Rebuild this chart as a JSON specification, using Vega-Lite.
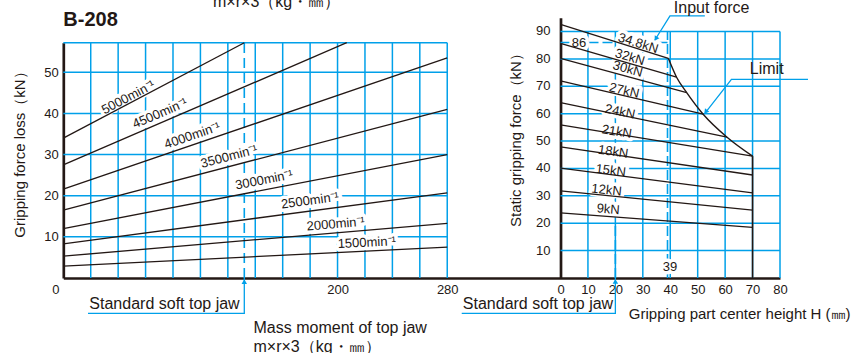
{
  "$schema": "https://vega.github.io/schema/vega-lite/v6.json",
  "width": 860,
  "height": 278,
  "autosize": {"type": "none"},
  "padding": {"left": 0, "top": 0, "right": 0, "bottom": 75},
  "background": "white",
  "config": {
    "view": {"stroke": null},
    "font": "Liberation Sans",
    "axis": {"labelFont": "Liberation Sans", "titleFont": "Liberation Sans", "labelColor": "#231815", "titleColor": "#231815", "titleFontWeight": "normal", "labelFlush": false, "labelOverlap": false, "labelBound": false}
  },
  "datasets": {
    "leftVGrid": [
      {"x": 20, "ya": 0, "yb": 57.2}, {"x": 40, "ya": 0, "yb": 57.2}, {"x": 60, "ya": 0, "yb": 57.2}, {"x": 80, "ya": 0, "yb": 57.2},
      {"x": 100, "ya": 0, "yb": 57.2}, {"x": 120, "ya": 0, "yb": 57.2}, {"x": 140, "ya": 0, "yb": 57.2}, {"x": 160, "ya": 0, "yb": 57.2},
      {"x": 180, "ya": 0, "yb": 57.2}, {"x": 200, "ya": 0, "yb": 57.2}, {"x": 220, "ya": 0, "yb": 57.2}, {"x": 240, "ya": 0, "yb": 57.2},
      {"x": 260, "ya": 0, "yb": 57.2}, {"x": 280, "ya": 0, "yb": 57.2}
    ],
    "leftHGrid": [
      {"y": 10, "xa": 0, "xb": 280}, {"y": 20, "xa": 0, "xb": 280}, {"y": 30, "xa": 0, "xb": 280},
      {"y": 40, "xa": 0, "xb": 280}, {"y": 50, "xa": 0, "xb": 280}, {"y": 57.2, "xa": 0, "xb": 280}
    ],
    "rightVGrid": [
      {"x": 10, "ya": 0, "yb": 90}, {"x": 20, "ya": 0, "yb": 90}, {"x": 30, "ya": 0, "yb": 90}, {"x": 40, "ya": 0, "yb": 90},
      {"x": 50, "ya": 0, "yb": 90}, {"x": 60, "ya": 0, "yb": 90}, {"x": 70, "ya": 0, "yb": 90}, {"x": 80, "ya": 0, "yb": 90}
    ],
    "rightHGrid": [
      {"y": 10, "xa": 0, "xb": 80}, {"y": 20, "xa": 0, "xb": 80}, {"y": 30, "xa": 0, "xb": 80},
      {"y": 40, "xa": 0, "xb": 80}, {"y": 50, "xa": 0, "xb": 80}, {"y": 60, "xa": 0, "xb": 80},
      {"y": 70, "xa": 0, "xb": 80}, {"y": 80, "xa": 0, "xb": 80}, {"y": 90, "xa": 0, "xb": 80}
    ],
    "rightTicks": [{"v": 10}, {"v": 20}, {"v": 30}, {"v": 40}, {"v": 50}, {"v": 60}, {"v": 70}, {"v": 80}, {"v": 90}],
    "leftLines": [
      {"speed": "5000", "x": 0, "y": 34.0}, {"speed": "5000", "x": 132, "y": 57.2},
      {"speed": "4500", "x": 0, "y": 27.5}, {"speed": "4500", "x": 206.7, "y": 57.2},
      {"speed": "4000", "x": 0, "y": 21.6}, {"speed": "4000", "x": 280, "y": 53.5},
      {"speed": "3500", "x": 0, "y": 16.5}, {"speed": "3500", "x": 280, "y": 41.0},
      {"speed": "3000", "x": 0, "y": 12.0}, {"speed": "3000", "x": 280, "y": 30.0},
      {"speed": "2500", "x": 0, "y": 8.3}, {"speed": "2500", "x": 280, "y": 20.7},
      {"speed": "2000", "x": 0, "y": 5.3}, {"speed": "2000", "x": 280, "y": 13.3},
      {"speed": "1500", "x": 0, "y": 2.9}, {"speed": "1500", "x": 280, "y": 7.5}
    ],
    "rightLines": [
      {"force": "34.8", "x": 0, "y": 92.6}, {"force": "34.8", "x": 39.3, "y": 80.2},
      {"force": "32", "x": 0, "y": 85.7}, {"force": "32", "x": 42.3, "y": 73.3},
      {"force": "30", "x": 0, "y": 80.2}, {"force": "30", "x": 46.0, "y": 67.7},
      {"force": "27", "x": 0, "y": 72.0}, {"force": "27", "x": 52.0, "y": 59.8},
      {"force": "24", "x": 0, "y": 64.0}, {"force": "24", "x": 60.7, "y": 51.4},
      {"force": "21", "x": 0, "y": 55.9}, {"force": "21", "x": 70, "y": 44.5},
      {"force": "18", "x": 0, "y": 47.9}, {"force": "18", "x": 70, "y": 37.6},
      {"force": "15", "x": 0, "y": 40.1}, {"force": "15", "x": 70, "y": 31.1},
      {"force": "12", "x": 0, "y": 31.8}, {"force": "12", "x": 70, "y": 24.8},
      {"force": "9", "x": 0, "y": 23.8}, {"force": "9", "x": 70, "y": 18.5}
    ],
    "limitCurve": [
      {"x": 39.3, "y": 80.2}, {"x": 42.3, "y": 73.3}, {"x": 46.0, "y": 67.7},
      {"x": 52.0, "y": 59.8}, {"x": 60.7, "y": 51.4}, {"x": 70, "y": 44.5}
    ],
    "rightLeaders": [
      {"id": "jaw", "i": 0, "x": 20, "y": 0}, {"id": "jaw", "i": 1, "x": 20, "y": -12.9}, {"id": "jaw", "i": 2, "x": -36, "y": -12.9},
      {"id": "input", "i": 0, "x": 52.6, "y": 95.7}, {"id": "input", "i": 1, "x": 39.9, "y": 95.7}, {"id": "input", "i": 2, "x": 34.4, "y": 86.9},
      {"id": "limit", "i": 0, "x": 90.2, "y": 72.5}, {"id": "limit", "i": 1, "x": 62.3, "y": 72.5}, {"id": "limit", "i": 2, "x": 52.6, "y": 60.1}
    ]
  },
  "layer": [
    {
      "layer": [
        {
          "data": {"name": "leftVGrid"},
          "mark": {"type": "rule", "color": "#00A0E9", "strokeWidth": 1.5},
          "encoding": {
            "x": {"field": "x", "type": "quantitative",
              "scale": {"domain": [0, 362.6], "range": [63.3, 560.5], "nice": false, "zero": false},
              "axis": {"orient": "bottom", "values": [0, 200, 280], "grid": false, "ticks": false, "domainColor": "#231815", "domainWidth": 2.7,
                "labelFontSize": 13, "labelPadding": 5, "labelOverlap": false, "labelOffset": {"condition": {"test": "datum.value === 0", "value": -8}, "value": 0},
                "title": ["Mass moment of top jaw", "m×r×3（kg・㎜）"], "titleFontSize": 16, "titleX": 253, "titleY": 41,
                "titleAlign": "left", "titleBaseline": "top", "titleLineHeight": 19}},
            "y": {"field": "ya", "type": "quantitative",
              "scale": {"domain": [0, 57.2], "range": [278, 42.7], "nice": false, "zero": false},
              "axis": {"orient": "left", "offset": -63.3, "values": [10, 20, 30, 40, 50], "grid": false, "ticks": false, "domainColor": "#231815", "domainWidth": 2.7,
                "labelFontSize": 13, "labelPadding": 5, "labelOverlap": false, "title": "Gripping force loss（kN）", "titleFontSize": 15, "titleAngle": -90,
                "titleX": -44.3, "titleY": 150.5, "titleAlign": "center", "titleBaseline": "middle"}},
            "y2": {"field": "yb"}
          }
        },
        {
          "data": {"name": "leftHGrid"},
          "mark": {"type": "rule", "color": "#00A0E9", "strokeWidth": 1.5},
          "encoding": {"x": {"field": "xa", "type": "quantitative"}, "x2": {"field": "xb"}, "y": {"field": "y", "type": "quantitative"}}
        },
        {
          "data": {"values": [{"x": 132, "ya": 0, "yb": 57.2}]},
          "mark": {"type": "rule", "color": "#00A0E9", "strokeWidth": 1.6, "strokeDash": [10, 5]},
          "encoding": {"x": {"field": "x", "type": "quantitative"}, "y": {"field": "ya", "type": "quantitative"}, "y2": {"field": "yb"}}
        },
        {"data": {"values": [{"t": "5000min⁻¹", "x": 47.4, "y": 43.9}]}, "mark": {"type": "text", "angle": -27.7, "fontSize": 13, "fill": "white", "stroke": "white", "strokeWidth": 7, "strokeJoin": "round"}, "encoding": {"x": {"field": "x", "type": "quantitative"}, "y": {"field": "y", "type": "quantitative"}, "text": {"field": "t"}}},
        {"data": {"values": [{"t": "4500min⁻¹", "x": 70.5, "y": 40.0}]}, "mark": {"type": "text", "angle": -23.2, "fontSize": 13, "fill": "white", "stroke": "white", "strokeWidth": 7, "strokeJoin": "round"}, "encoding": {"x": {"field": "x", "type": "quantitative"}, "y": {"field": "y", "type": "quantitative"}, "text": {"field": "t"}}},
        {"data": {"values": [{"t": "4000min⁻¹", "x": 94.1, "y": 34.6}]}, "mark": {"type": "text", "angle": -18.8, "fontSize": 13, "fill": "white", "stroke": "white", "strokeWidth": 7, "strokeJoin": "round"}, "encoding": {"x": {"field": "x", "type": "quantitative"}, "y": {"field": "y", "type": "quantitative"}, "text": {"field": "t"}}},
        {"data": {"values": [{"t": "3500min⁻¹", "x": 120.9, "y": 29.5}]}, "mark": {"type": "text", "angle": -14.7, "fontSize": 13, "fill": "white", "stroke": "white", "strokeWidth": 7, "strokeJoin": "round"}, "encoding": {"x": {"field": "x", "type": "quantitative"}, "y": {"field": "y", "type": "quantitative"}, "text": {"field": "t"}}},
        {"data": {"values": [{"t": "3000min⁻¹", "x": 146.4, "y": 23.8}]}, "mark": {"type": "text", "angle": -10.9, "fontSize": 13, "fill": "white", "stroke": "white", "strokeWidth": 7, "strokeJoin": "round"}, "encoding": {"x": {"field": "x", "type": "quantitative"}, "y": {"field": "y", "type": "quantitative"}, "text": {"field": "t"}}},
        {"data": {"values": [{"t": "2500min⁻¹", "x": 179.9, "y": 18.8}]}, "mark": {"type": "text", "angle": -7.6, "fontSize": 13, "fill": "white", "stroke": "white", "strokeWidth": 7, "strokeJoin": "round"}, "encoding": {"x": {"field": "x", "type": "quantitative"}, "y": {"field": "y", "type": "quantitative"}, "text": {"field": "t"}}},
        {"data": {"values": [{"t": "2000min⁻¹", "x": 198.7, "y": 13.1}]}, "mark": {"type": "text", "angle": -4.8, "fontSize": 13, "fill": "white", "stroke": "white", "strokeWidth": 7, "strokeJoin": "round"}, "encoding": {"x": {"field": "x", "type": "quantitative"}, "y": {"field": "y", "type": "quantitative"}, "text": {"field": "t"}}},
        {"data": {"values": [{"t": "1500min⁻¹", "x": 221.3, "y": 8.6}]}, "mark": {"type": "text", "angle": -2.8, "fontSize": 13, "fill": "white", "stroke": "white", "strokeWidth": 7, "strokeJoin": "round"}, "encoding": {"x": {"field": "x", "type": "quantitative"}, "y": {"field": "y", "type": "quantitative"}, "text": {"field": "t"}}},
        {
          "data": {"values": [{"i": 0, "x": 132, "y": 0}, {"i": 1, "x": 132, "y": -8.6}, {"i": 2, "x": 18, "y": -8.6}]},
          "mark": {"type": "line", "color": "#00A0E9", "strokeWidth": 1.3},
          "encoding": {"x": {"field": "x", "type": "quantitative"}, "y": {"field": "y", "type": "quantitative"}, "order": {"field": "i"}}
        },
        {
          "data": {"values": [{"x": 132, "y": -0.9}]},
          "mark": {"type": "point", "shape": "triangle-up", "filled": true, "size": 30, "color": "#00A0E9", "opacity": 1},
          "encoding": {"x": {"field": "x", "type": "quantitative"}, "y": {"field": "y", "type": "quantitative"}}
        },
        {
          "data": {"name": "leftLines"},
          "mark": {"type": "line", "color": "#231815", "strokeWidth": 1.3},
          "encoding": {"x": {"field": "x", "type": "quantitative"}, "y": {"field": "y", "type": "quantitative"}, "detail": {"field": "speed"}}
        },
        {"data": {"values": [{"t": "5000min⁻¹", "x": 47.4, "y": 43.9}]}, "mark": {"type": "text", "angle": -27.7, "fontSize": 13, "fill": "#231815"}, "encoding": {"x": {"field": "x", "type": "quantitative"}, "y": {"field": "y", "type": "quantitative"}, "text": {"field": "t"}}},
        {"data": {"values": [{"t": "4500min⁻¹", "x": 70.5, "y": 40.0}]}, "mark": {"type": "text", "angle": -23.2, "fontSize": 13, "fill": "#231815"}, "encoding": {"x": {"field": "x", "type": "quantitative"}, "y": {"field": "y", "type": "quantitative"}, "text": {"field": "t"}}},
        {"data": {"values": [{"t": "4000min⁻¹", "x": 94.1, "y": 34.6}]}, "mark": {"type": "text", "angle": -18.8, "fontSize": 13, "fill": "#231815"}, "encoding": {"x": {"field": "x", "type": "quantitative"}, "y": {"field": "y", "type": "quantitative"}, "text": {"field": "t"}}},
        {"data": {"values": [{"t": "3500min⁻¹", "x": 120.9, "y": 29.5}]}, "mark": {"type": "text", "angle": -14.7, "fontSize": 13, "fill": "#231815"}, "encoding": {"x": {"field": "x", "type": "quantitative"}, "y": {"field": "y", "type": "quantitative"}, "text": {"field": "t"}}},
        {"data": {"values": [{"t": "3000min⁻¹", "x": 146.4, "y": 23.8}]}, "mark": {"type": "text", "angle": -10.9, "fontSize": 13, "fill": "#231815"}, "encoding": {"x": {"field": "x", "type": "quantitative"}, "y": {"field": "y", "type": "quantitative"}, "text": {"field": "t"}}},
        {"data": {"values": [{"t": "2500min⁻¹", "x": 179.9, "y": 18.8}]}, "mark": {"type": "text", "angle": -7.6, "fontSize": 13, "fill": "#231815"}, "encoding": {"x": {"field": "x", "type": "quantitative"}, "y": {"field": "y", "type": "quantitative"}, "text": {"field": "t"}}},
        {"data": {"values": [{"t": "2000min⁻¹", "x": 198.7, "y": 13.1}]}, "mark": {"type": "text", "angle": -4.8, "fontSize": 13, "fill": "#231815"}, "encoding": {"x": {"field": "x", "type": "quantitative"}, "y": {"field": "y", "type": "quantitative"}, "text": {"field": "t"}}},
        {"data": {"values": [{"t": "1500min⁻¹", "x": 221.3, "y": 8.6}]}, "mark": {"type": "text", "angle": -2.8, "fontSize": 13, "fill": "#231815"}, "encoding": {"x": {"field": "x", "type": "quantitative"}, "y": {"field": "y", "type": "quantitative"}, "text": {"field": "t"}}},
        {"data": {"values": [{"t": "Standard soft top jaw", "x": 19, "y": -6.3}]}, "mark": {"type": "text", "align": "left", "baseline": "middle", "fontSize": 16, "fill": "#231815"}, "encoding": {"x": {"field": "x", "type": "quantitative"}, "y": {"field": "y", "type": "quantitative"}, "text": {"field": "t"}}},
        {"data": {"values": [{"t": "B-208", "x": 0, "y": 62.6}]}, "mark": {"type": "text", "align": "left", "baseline": "middle", "fontSize": 20, "fontWeight": "bold", "fill": "#231815"}, "encoding": {"x": {"field": "x", "type": "quantitative"}, "y": {"field": "y", "type": "quantitative"}, "text": {"field": "t"}}},
        {"data": {"values": [{"t": "m×r×3（kg・㎜）", "x": 109.2, "y": 65.9}]}, "mark": {"type": "text", "align": "left", "baseline": "alphabetic", "fontSize": 16, "fill": "#231815"}, "encoding": {"x": {"field": "x", "type": "quantitative"}, "y": {"field": "y", "type": "quantitative"}, "text": {"field": "t"}}}
      ]
    },
    {
      "layer": [
        {
          "data": {"name": "rightVGrid"},
          "mark": {"type": "rule", "color": "#00A0E9", "strokeWidth": 1.5},
          "encoding": {
            "x": {"field": "x", "type": "quantitative",
              "scale": {"domain": [0, 80], "range": [560.5, 780], "nice": false, "zero": false},
              "axis": {"orient": "bottom", "values": [0, 10, 20, 30, 40, 50, 60, 70, 80], "grid": false, "ticks": false, "domainColor": "#231815", "domainWidth": 2.7,
                "labelFontSize": 13, "labelPadding": 5, "labelOverlap": false, "title": "Gripping part center height H (㎜)", "titleFontSize": 15,
                "titleX": 628.3, "titleY": 35, "titleAlign": "left", "titleBaseline": "middle"}},
            "y": {"field": "ya", "type": "quantitative",
              "scale": {"domain": [0, 95], "range": [278, 17.8], "nice": false, "zero": false},
              "axis": {"orient": "left", "offset": -560.5, "values": [10, 20, 30, 40, 50, 60, 70, 80, 90], "grid": false, "ticks": false, "domainColor": "#231815", "domainWidth": 2.7,
                "labels": false, "title": "Static gripping force（kN）", "titleFontSize": 15, "titleAngle": -90,
                "titleX": -45.5, "titleY": 136, "titleAlign": "center", "titleBaseline": "middle"}},
            "y2": {"field": "yb"}
          }
        },
        {
          "data": {"name": "rightHGrid"},
          "mark": {"type": "rule", "color": "#00A0E9", "strokeWidth": 1.5},
          "encoding": {"x": {"field": "xa", "type": "quantitative"}, "x2": {"field": "xb"}, "y": {"field": "y", "type": "quantitative"}}
        },
        {
          "data": {"name": "rightTicks"},
          "mark": {"type": "text", "align": "right", "baseline": "middle", "fontSize": 13, "fill": "#231815", "dx": -10},
          "encoding": {"x": {"datum": 0, "type": "quantitative"}, "y": {"field": "v", "type": "quantitative"}, "text": {"field": "v", "type": "quantitative"}}
        },
        {
          "data": {"values": [{"x": 39, "ya": 0, "yb": 90}, {"x": 20, "ya": 0, "yb": 20}]},
          "mark": {"type": "rule", "color": "#00A0E9", "strokeWidth": 1.6, "strokeDash": [10, 4]},
          "encoding": {"x": {"field": "x", "type": "quantitative"}, "y": {"field": "ya", "type": "quantitative"}, "y2": {"field": "yb"}}
        },
        {
          "data": {"values": [{"y": 86, "xa": 0, "xb": 39}]},
          "mark": {"type": "rule", "color": "#00A0E9", "strokeWidth": 1.6, "strokeDash": [10, 4]},
          "encoding": {"x": {"field": "xa", "type": "quantitative"}, "x2": {"field": "xb"}, "y": {"field": "y", "type": "quantitative"}}
        },
        {"data": {"values": [{"t": "34.8kN", "x": 28.3, "y": 85.7}]}, "mark": {"type": "text", "angle": 17.5, "fontSize": 13, "fill": "white", "stroke": "white", "strokeWidth": 7, "strokeJoin": "round"}, "encoding": {"x": {"field": "x", "type": "quantitative"}, "y": {"field": "y", "type": "quantitative"}, "text": {"field": "t"}}},
        {"data": {"values": [{"t": "32kN", "x": 25.3, "y": 80.6}]}, "mark": {"type": "text", "angle": 16.3, "fontSize": 13, "fill": "white", "stroke": "white", "strokeWidth": 7, "strokeJoin": "round"}, "encoding": {"x": {"field": "x", "type": "quantitative"}, "y": {"field": "y", "type": "quantitative"}, "text": {"field": "t"}}},
        {"data": {"values": [{"t": "30kN", "x": 24.5, "y": 76.3}]}, "mark": {"type": "text", "angle": 15.3, "fontSize": 13, "fill": "white", "stroke": "white", "strokeWidth": 7, "strokeJoin": "round"}, "encoding": {"x": {"field": "x", "type": "quantitative"}, "y": {"field": "y", "type": "quantitative"}, "text": {"field": "t"}}},
        {"data": {"values": [{"t": "27kN", "x": 23.2, "y": 68.4}]}, "mark": {"type": "text", "angle": 13.2, "fontSize": 13, "fill": "white", "stroke": "white", "strokeWidth": 7, "strokeJoin": "round"}, "encoding": {"x": {"field": "x", "type": "quantitative"}, "y": {"field": "y", "type": "quantitative"}, "text": {"field": "t"}}},
        {"data": {"values": [{"t": "24kN", "x": 21.7, "y": 60.7}]}, "mark": {"type": "text", "angle": 11.7, "fontSize": 13, "fill": "white", "stroke": "white", "strokeWidth": 7, "strokeJoin": "round"}, "encoding": {"x": {"field": "x", "type": "quantitative"}, "y": {"field": "y", "type": "quantitative"}, "text": {"field": "t"}}},
        {"data": {"values": [{"t": "21kN", "x": 20.5, "y": 53.4}]}, "mark": {"type": "text", "angle": 9.3, "fontSize": 13, "fill": "white", "stroke": "white", "strokeWidth": 7, "strokeJoin": "round"}, "encoding": {"x": {"field": "x", "type": "quantitative"}, "y": {"field": "y", "type": "quantitative"}, "text": {"field": "t"}}},
        {"data": {"values": [{"t": "18kN", "x": 19.2, "y": 46.1}]}, "mark": {"type": "text", "angle": 8.4, "fontSize": 13, "fill": "white", "stroke": "white", "strokeWidth": 7, "strokeJoin": "round"}, "encoding": {"x": {"field": "x", "type": "quantitative"}, "y": {"field": "y", "type": "quantitative"}, "text": {"field": "t"}}},
        {"data": {"values": [{"t": "15kN", "x": 18.3, "y": 39.2}]}, "mark": {"type": "text", "angle": 7.2, "fontSize": 13, "fill": "white", "stroke": "white", "strokeWidth": 7, "strokeJoin": "round"}, "encoding": {"x": {"field": "x", "type": "quantitative"}, "y": {"field": "y", "type": "quantitative"}, "text": {"field": "t"}}},
        {"data": {"values": [{"t": "12kN", "x": 16.8, "y": 32.1}]}, "mark": {"type": "text", "angle": 5.7, "fontSize": 13, "fill": "white", "stroke": "white", "strokeWidth": 7, "strokeJoin": "round"}, "encoding": {"x": {"field": "x", "type": "quantitative"}, "y": {"field": "y", "type": "quantitative"}, "text": {"field": "t"}}},
        {"data": {"values": [{"t": "9kN", "x": 17.4, "y": 25.1}]}, "mark": {"type": "text", "angle": 4.3, "fontSize": 13, "fill": "white", "stroke": "white", "strokeWidth": 7, "strokeJoin": "round"}, "encoding": {"x": {"field": "x", "type": "quantitative"}, "y": {"field": "y", "type": "quantitative"}, "text": {"field": "t"}}},
        {"data": {"values": [{"t": "86", "x": 6.7, "y": 85.9}, {"t": "39", "x": 39.9, "y": 4.1}]}, "mark": {"type": "text", "fontSize": 13, "fill": "white", "stroke": "white", "strokeWidth": 7, "strokeJoin": "round"}, "encoding": {"x": {"field": "x", "type": "quantitative"}, "y": {"field": "y", "type": "quantitative"}, "text": {"field": "t"}}},
        {
          "data": {"name": "rightLeaders"},
          "mark": {"type": "line", "color": "#00A0E9", "strokeWidth": 1.3},
          "encoding": {"x": {"field": "x", "type": "quantitative"}, "y": {"field": "y", "type": "quantitative"}, "detail": {"field": "id"}, "order": {"field": "i"}}
        },
        {
          "data": {"values": [{"x": 20, "y": -1.2}]},
          "mark": {"type": "point", "shape": "triangle-up", "filled": true, "size": 30, "color": "#00A0E9", "opacity": 1},
          "encoding": {"x": {"field": "x", "type": "quantitative"}, "y": {"field": "y", "type": "quantitative"}}
        },
        {
          "data": {"values": [{"x": 34.9, "y": 87.6}]},
          "mark": {"type": "point", "shape": "triangle", "filled": true, "size": 30, "angle": 212, "color": "#00A0E9", "opacity": 1},
          "encoding": {"x": {"field": "x", "type": "quantitative"}, "y": {"field": "y", "type": "quantitative"}}
        },
        {
          "data": {"values": [{"x": 53.1, "y": 60.9}]},
          "mark": {"type": "point", "shape": "triangle", "filled": true, "size": 30, "angle": 218, "color": "#00A0E9", "opacity": 1},
          "encoding": {"x": {"field": "x", "type": "quantitative"}, "y": {"field": "y", "type": "quantitative"}}
        },
        {
          "data": {"name": "rightLines"},
          "mark": {"type": "line", "color": "#231815", "strokeWidth": 1.3},
          "encoding": {"x": {"field": "x", "type": "quantitative"}, "y": {"field": "y", "type": "quantitative"}, "detail": {"field": "force"}}
        },
        {
          "data": {"name": "limitCurve"},
          "mark": {"type": "line", "color": "#231815", "strokeWidth": 1.4, "interpolate": "monotone"},
          "encoding": {"x": {"field": "x", "type": "quantitative"}, "y": {"field": "y", "type": "quantitative"}}
        },
        {
          "data": {"values": [{"x": 70, "ya": 0, "yb": 44.5}]},
          "mark": {"type": "rule", "color": "#231815", "strokeWidth": 1.6},
          "encoding": {"x": {"field": "x", "type": "quantitative"}, "y": {"field": "ya", "type": "quantitative"}, "y2": {"field": "yb"}}
        },
        {"data": {"values": [{"t": "34.8kN", "x": 28.3, "y": 85.7}]}, "mark": {"type": "text", "angle": 17.5, "fontSize": 13, "fill": "#231815"}, "encoding": {"x": {"field": "x", "type": "quantitative"}, "y": {"field": "y", "type": "quantitative"}, "text": {"field": "t"}}},
        {"data": {"values": [{"t": "32kN", "x": 25.3, "y": 80.6}]}, "mark": {"type": "text", "angle": 16.3, "fontSize": 13, "fill": "#231815"}, "encoding": {"x": {"field": "x", "type": "quantitative"}, "y": {"field": "y", "type": "quantitative"}, "text": {"field": "t"}}},
        {"data": {"values": [{"t": "30kN", "x": 24.5, "y": 76.3}]}, "mark": {"type": "text", "angle": 15.3, "fontSize": 13, "fill": "#231815"}, "encoding": {"x": {"field": "x", "type": "quantitative"}, "y": {"field": "y", "type": "quantitative"}, "text": {"field": "t"}}},
        {"data": {"values": [{"t": "27kN", "x": 23.2, "y": 68.4}]}, "mark": {"type": "text", "angle": 13.2, "fontSize": 13, "fill": "#231815"}, "encoding": {"x": {"field": "x", "type": "quantitative"}, "y": {"field": "y", "type": "quantitative"}, "text": {"field": "t"}}},
        {"data": {"values": [{"t": "24kN", "x": 21.7, "y": 60.7}]}, "mark": {"type": "text", "angle": 11.7, "fontSize": 13, "fill": "#231815"}, "encoding": {"x": {"field": "x", "type": "quantitative"}, "y": {"field": "y", "type": "quantitative"}, "text": {"field": "t"}}},
        {"data": {"values": [{"t": "21kN", "x": 20.5, "y": 53.4}]}, "mark": {"type": "text", "angle": 9.3, "fontSize": 13, "fill": "#231815"}, "encoding": {"x": {"field": "x", "type": "quantitative"}, "y": {"field": "y", "type": "quantitative"}, "text": {"field": "t"}}},
        {"data": {"values": [{"t": "18kN", "x": 19.2, "y": 46.1}]}, "mark": {"type": "text", "angle": 8.4, "fontSize": 13, "fill": "#231815"}, "encoding": {"x": {"field": "x", "type": "quantitative"}, "y": {"field": "y", "type": "quantitative"}, "text": {"field": "t"}}},
        {"data": {"values": [{"t": "15kN", "x": 18.3, "y": 39.2}]}, "mark": {"type": "text", "angle": 7.2, "fontSize": 13, "fill": "#231815"}, "encoding": {"x": {"field": "x", "type": "quantitative"}, "y": {"field": "y", "type": "quantitative"}, "text": {"field": "t"}}},
        {"data": {"values": [{"t": "12kN", "x": 16.8, "y": 32.1}]}, "mark": {"type": "text", "angle": 5.7, "fontSize": 13, "fill": "#231815"}, "encoding": {"x": {"field": "x", "type": "quantitative"}, "y": {"field": "y", "type": "quantitative"}, "text": {"field": "t"}}},
        {"data": {"values": [{"t": "9kN", "x": 17.4, "y": 25.1}]}, "mark": {"type": "text", "angle": 4.3, "fontSize": 13, "fill": "#231815"}, "encoding": {"x": {"field": "x", "type": "quantitative"}, "y": {"field": "y", "type": "quantitative"}, "text": {"field": "t"}}},
        {"data": {"values": [{"t": "86", "x": 6.7, "y": 85.9}, {"t": "39", "x": 39.9, "y": 4.1}]}, "mark": {"type": "text", "fontSize": 13, "fill": "#231815"}, "encoding": {"x": {"field": "x", "type": "quantitative"}, "y": {"field": "y", "type": "quantitative"}, "text": {"field": "t"}}},
        {"data": {"values": [{"t": "Input force", "x": 41.3, "y": 98.4}, {"t": "Limit", "x": 69.0, "y": 76.4}, {"t": "Standard soft top jaw", "x": -35.6, "y": -9.4}]}, "mark": {"type": "text", "align": "left", "baseline": "middle", "fontSize": 16, "fill": "#231815"}, "encoding": {"x": {"field": "x", "type": "quantitative"}, "y": {"field": "y", "type": "quantitative"}, "text": {"field": "t"}}}
      ]
    }
  ],
  "resolve": {"scale": {"x": "independent", "y": "independent"}, "axis": {"x": "independent", "y": "independent"}}
}
